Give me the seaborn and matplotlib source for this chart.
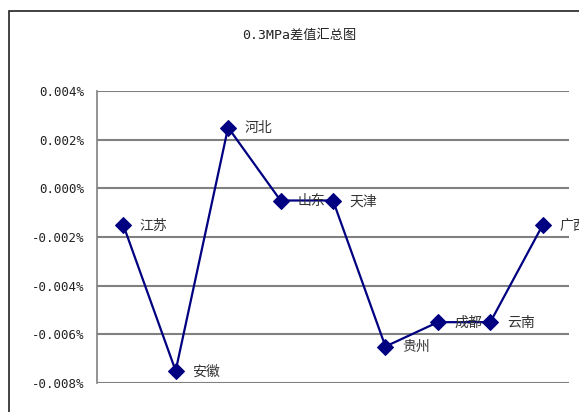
import matplotlib
matplotlib.use('Agg')
import matplotlib.pyplot as plt
import seaborn as sns
import pandas as pd
from matplotlib.ticker import FuncFormatter
from matplotlib.patches import Rectangle

# 数据 (单位: %)
regions = ['江苏', '安徽', '河北', '山东', '天津', '贵州', '成都', '云南', '广西']
diff_pct = [-0.0015, -0.0075, 0.0025, -0.0005, -0.0005, -0.0065, -0.0055, -0.0055, -0.0015]
y_ticks = [-0.008, -0.006, -0.004, -0.002, 0.000, 0.002, 0.004]

df = pd.DataFrame({'region': regions, 'diff': diff_pct})

sns.set_style('white')
plt.rcParams['font.family'] = ['DejaVu Sans Mono', 'Noto Sans CJK SC']
plt.rcParams['axes.unicode_minus'] = False

fig = plt.figure(figsize=(5.79, 4.12), dpi=100)
ax = fig.add_axes([97 / 579, 1 - 383 / 412, (569 - 97) / 579, (383 - 91) / 412])

# chart border (cut off at right and bottom like the reference)
fig.patches.append(Rectangle((9 / 579, -0.1), 1.2, 1 - 11 / 412 + 0.1,
                             transform=fig.transFigure, fill=False,
                             edgecolor='#222222', linewidth=1.2))

sns.lineplot(data=df, x='region', y='diff', ax=ax, sort=False,
             color='#000080', linewidth=1.6, marker='D', markersize=8,
             markeredgecolor='#000080', markerfacecolor='#000080')

for i, (name, v) in enumerate(zip(regions, diff_pct)):
    ax.annotate(name, (i, v), xytext=(12, -0.5), textcoords='offset points',
                va='center', ha='left', fontsize=10, color='#333333',
                family=['Noto Sans CJK SC'], annotation_clip=False)

ax.set_xlim(-0.5, len(regions) - 0.5)
ax.set_ylim(-0.008, 0.004)
ax.set_yticks(y_ticks)
ax.yaxis.set_major_formatter(FuncFormatter(lambda v, p: '{:.3f}%'.format(0.0 if abs(v) < 1e-12 else v)))
ax.set_xticks([])
ax.set_xlabel('')
ax.set_ylabel('')
ax.tick_params(axis='y', labelsize=9, colors='#222222', length=0, pad=9)

ax.grid(axis='y', color='#808080', linewidth=1.5)
for s in ['top', 'right', 'bottom']:
    ax.spines[s].set_visible(False)
ax.spines['left'].set_color('#808080')
ax.spines['left'].set_linewidth(1.2)

fig.text(299 / 579, 1 - 35 / 412, '0.3MPa差值汇总图', ha='center', va='center',
         fontsize=9.5, color='#222222')

fig.savefig('out.png', dpi=100)
